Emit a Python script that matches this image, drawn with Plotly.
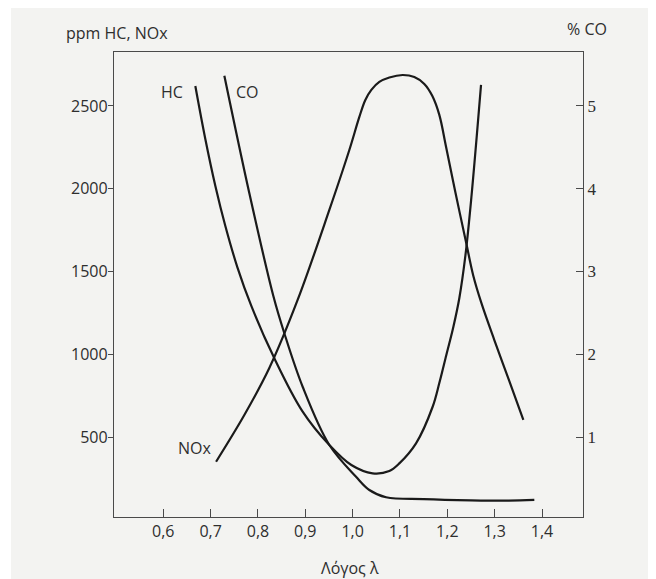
import plotly.graph_objects as go

# ---- data ----
lam_nox = [0.7115, 0.7712, 0.824, 0.8838, 0.9508, 0.993, 1.0142, 1.0268, 1.0395, 1.0564,
           1.0775, 1.1056, 1.1303, 1.1514, 1.1684, 1.1831, 1.1973, 1.2169, 1.2395, 1.255,
           1.2719, 1.2993, 1.331, 1.3606]
nox_ppm = [351, 633, 917, 1328, 1872, 2234, 2434, 2536, 2597, 2645,
           2672, 2687, 2675, 2633, 2560, 2446, 2254, 1980, 1678, 1473,
           1310, 1086, 838, 603]

lam_hc = [0.6677, 0.6888, 0.71, 0.7311, 0.7564, 0.786, 0.8346, 0.8937, 0.9508, 0.9973,
          1.0422, 1.0775, 1.0986, 1.1339, 1.169, 1.1831, 1.1979, 1.2127, 1.2254, 1.2381,
          1.2507, 1.2712]
hc_ppm = [2621, 2301, 2017, 1775, 1527, 1292, 976, 657, 452, 331,
          281, 295, 341, 462, 683, 826, 996, 1165, 1340, 1594,
          1944, 2627]

lam_co = [0.729, 0.7818, 0.8325, 0.8557, 0.8944, 0.9508, 1.0072, 1.0353, 1.0706,
          1.15, 1.25, 1.33, 1.3838]
co_pct = [5.366, 3.946, 2.704, 2.254, 1.608, 0.904, 0.52, 0.36, 0.272,
          0.25, 0.236, 0.232, 0.24]

x_ticks = [0.6, 0.7, 0.8, 0.9, 1.0, 1.1, 1.2, 1.3, 1.4]
x_tick_labels = ["0,6", "0,7", "0,8", "0,9", "1,0", "1,1", "1,2", "1,3", "1,4"]
left_ticks = [500, 1000, 1500, 2000, 2500]
right_ticks = [1, 2, 3, 4, 5]

SANS = "Open Sans"
SERIF = "Liberation Serif"
INK = "#1a1a1a"
AX = "#4a4a4a"
TXT = "#2e2e2e"

line_style = dict(color=INK, width=2.2, shape="spline", smoothing=1.0)

fig = go.Figure()
fig.add_trace(go.Scatter(x=lam_nox, y=nox_ppm, mode="lines", line=line_style, name="NOx"))
fig.add_trace(go.Scatter(x=lam_hc, y=hc_ppm, mode="lines", line=line_style, name="HC"))
fig.add_trace(go.Scatter(x=lam_co, y=co_pct, mode="lines", line=line_style, name="CO", yaxis="y2"))

fig.update_layout(
    width=648, height=571,
    margin=dict(l=106, r=73, t=44, b=62),
    paper_bgcolor="white",
    plot_bgcolor="rgba(0,0,0,0)",
    showlegend=False,
    font=dict(family=SANS, size=16, color=TXT),
    xaxis=dict(
        range=[0.4959, 1.4866], tickvals=x_ticks, ticktext=x_tick_labels,
        ticks="inside", ticklen=8, tickwidth=1.2, tickcolor=AX,
        showline=True, linecolor=AX, linewidth=1.3, mirror=True,
        showgrid=False, zeroline=False,
        tickfont=dict(family=SANS, size=16, color=TXT),
    ),
    yaxis=dict(
        range=[17, 2826], tickvals=left_ticks,
        ticks="outside", ticklen=5, tickwidth=1.2, tickcolor=AX,
        ticklabelstandoff=-3,
        showline=True, linecolor=AX, linewidth=1.3,
        showgrid=False, zeroline=False,
        tickfont=dict(family=SANS, size=16, color=TXT),
    ),
    yaxis2=dict(
        range=[0.034, 5.652], tickvals=right_ticks, overlaying="y", side="right",
        ticks="inside", ticklen=7, tickwidth=1.2, tickcolor=AX,
        showline=True, linecolor=AX, linewidth=1.3,
        showgrid=False, zeroline=False,
        tickfont=dict(family=SERIF, size=17, color=TXT),
    ),
    shapes=[dict(type="rect", xref="paper", yref="paper", layer="below",
                 x0=-0.2196, x1=1.1557, y0=-0.1333, y1=1.0946,
                 fillcolor="#f3f3f1", line=dict(width=0))],
    annotations=[
        dict(text="ppm HC, NOx", xref="paper", yref="paper", x=0.0064, y=1.0409,
             xanchor="center", yanchor="middle", showarrow=False,
             font=dict(family=SANS, size=16, color=TXT)),
        dict(text="% CO", xref="paper", yref="paper", x=1.0085, y=1.0495,
             xanchor="center", yanchor="middle", showarrow=False,
             font=dict(family=SANS, size=16, color=TXT)),
        dict(text="Λόγος λ", xref="paper", yref="paper", x=0.5032, y=-0.1097,
             xanchor="center", yanchor="middle", showarrow=False,
             font=dict(family=SANS, size=16, color=TXT)),
        dict(text="HC", x=lam_hc[0], y=hc_ppm[0], xref="x", yref="y",
             xanchor="right", yanchor="middle", xshift=-10, yshift=-6, showarrow=False,
             font=dict(family=SANS, size=16, color=TXT)),
        dict(text="CO", x=lam_co[0], y=co_pct[0], xref="x", yref="y2",
             xanchor="left", yanchor="middle", xshift=10, yshift=-16, showarrow=False,
             font=dict(family=SANS, size=16, color=TXT)),
        dict(text="NOx", x=lam_nox[0], y=nox_ppm[0], xref="x", yref="y",
             xanchor="right", yanchor="middle", xshift=-3, yshift=14, showarrow=False,
             font=dict(family=SANS, size=16, color=TXT)),
    ],
)

fig.write_html("out.html")
